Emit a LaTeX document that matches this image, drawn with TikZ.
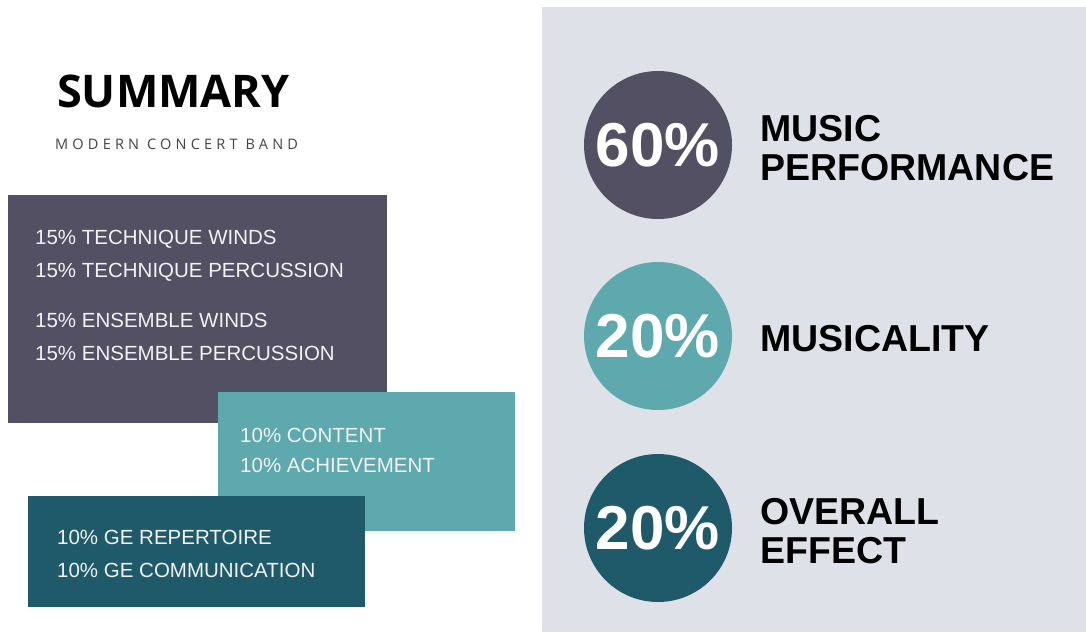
\documentclass[tikz,border=0pt]{standalone}
\usepackage{fontspec}
\setmainfont{Liberation Sans}
\newfontfamily\titlefont{Open Sans}
\newfontfamily\subfont[LetterSpace=29]{Open Sans}
\usetikzlibrary{positioning}

\definecolor{slate}{HTML}{525062}
\definecolor{teal}{HTML}{5DA9AE}
\definecolor{deepteal}{HTML}{1F5A6B}
\definecolor{panelgray}{HTML}{DFE1E8}
\definecolor{boxtext}{HTML}{F2F2F2}
\definecolor{subgray}{HTML}{444444}

\begin{document}
\begin{tikzpicture}[x=1pt,y=-1pt,
	box/.style={rectangle, anchor=north west, inner sep=0pt},
	boxline/.style={anchor=base west, inner sep=0pt, text=boxtext, font=\fontsize{20.5}{24}\selectfont},
	pct/.style={circle, minimum size=148pt, inner sep=0pt, text=white, font=\fontsize{62}{66}\selectfont\bfseries},
	lbl/.style={anchor=west, align=left, inner sep=0pt, yshift=-3pt, font=\fontsize{37.5}{39}\selectfont\bfseries}]
	\useasboundingbox[fill=white] (0,0) rectangle (1086,632);
	% right panel
	\node[box, fill=panelgray, minimum width=544pt, minimum height=625pt](panel) at (542,7){};
	% title
	\node[anchor=base west, inner sep=0pt, font=\titlefont\bfseries\fontsize{45}{50}\selectfont](title) at (57,107){SUMMARY};
	\node[anchor=base west, inner sep=0pt, text=subgray, font=\subfont\fontsize{14.5}{16}\selectfont](subtitle) at (55,149){MODERN CONCERT BAND};
	% boxes
	\node[box, fill=slate, minimum width=379pt, minimum height=228pt](perf) at (8,195){};
	\node[boxline](tw) at ([shift={(27,49)}]perf.north west){15\% TECHNIQUE WINDS};
	\node[boxline](tp) at ([shift={(27,82)}]perf.north west){15\% TECHNIQUE PERCUSSION};
	\node[boxline](ew) at ([shift={(27,132)}]perf.north west){15\% ENSEMBLE WINDS};
	\node[boxline](ep) at ([shift={(27,165)}]perf.north west){15\% ENSEMBLE PERCUSSION};
	\node[box, fill=teal, minimum width=297pt, minimum height=139pt](music) at (218,392){};
	\node[boxline](content) at ([shift={(22,50)}]music.north west){10\% CONTENT};
	\node[boxline](achieve) at ([shift={(22,80)}]music.north west){10\% ACHIEVEMENT};
	\node[box, fill=deepteal, minimum width=337pt, minimum height=111pt](effect) at (28,496){};
	\node[boxline](rep) at ([shift={(29,48)}]effect.north west){10\% GE REPERTOIRE};
	\node[boxline](comm) at ([shift={(29,81)}]effect.north west){10\% GE COMMUNICATION};
	% circles
	\node[pct, fill=slate](c60) at (658,145){60\%};
	\node[pct, fill=teal](c20a) at (658,336){20\%};
	\node[pct, fill=deepteal](c20b) at (658,528){20\%};
	\node[lbl, right=28pt of c60](perflbl){MUSIC\\PERFORMANCE};
	\node[lbl, right=28pt of c20a](muslbl){MUSICALITY};
	\node[lbl, right=28pt of c20b](efflbl){OVERALL\\EFFECT};
\end{tikzpicture}
\end{document}
